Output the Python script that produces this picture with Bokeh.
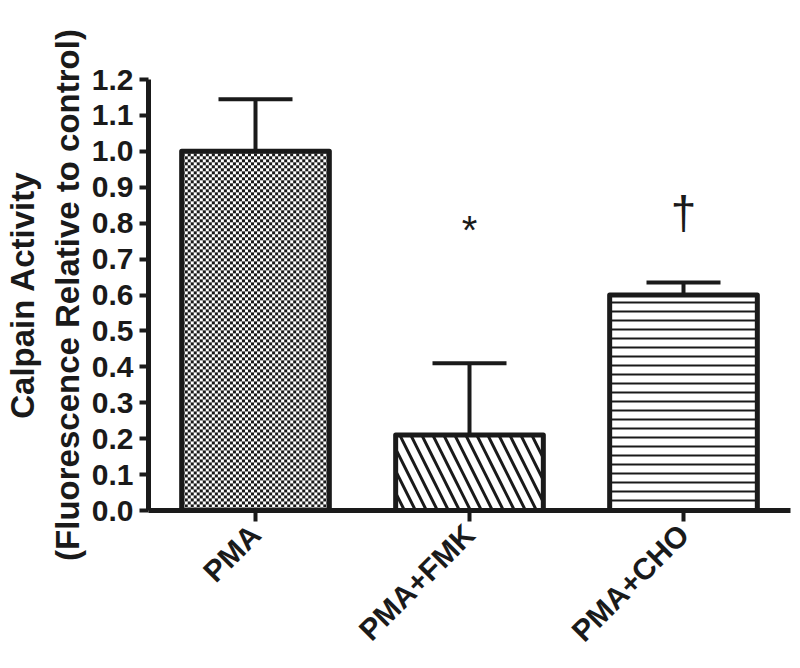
import math
import numpy as np
from bokeh.plotting import figure
from bokeh.models import (ColumnDataSource, FactorRange, Range1d, FixedTicker,
                          PrintfTickFormatter, Whisker, TeeHead)
from bokeh.transform import dodge
from bokeh.core.properties import value
from bokeh.embed import file_html
from bokeh.resources import INLINE

# ---- data ----
categories = ["PMA", "PMA+FMK", "PMA+CHO"]
means = [1.00, 0.21, 0.60]
sem = [0.145, 0.20, 0.035]
sig_labels = ["*", "†"]
sig_cats = ["PMA+FMK", "PMA+CHO"]
sig_y = [0.78, 0.828]
y_ticks = [0.0, 0.1, 0.2, 0.3, 0.4, 0.5, 0.6, 0.7, 0.8, 0.9, 1.0, 1.1, 1.2]

FONT = "Liberation Sans"
INK = "#1a1a1a"
BAR_W = 0.69
FRAME_W, FRAME_H = 642, 431
Y_MAX = 1.2

upper = [m + s for m, s in zip(means, sem)]
src = ColumnDataSource(dict(cat=categories, mean=means, upper=upper))

p = figure(x_range=FactorRange(factors=categories, range_padding=0),
           y_range=Range1d(0, Y_MAX),
           frame_width=FRAME_W, frame_height=FRAME_H,
           min_border_left=148, min_border_right=2,
           min_border_top=79, min_border_bottom=150,
           output_backend="svg", toolbar_location=None)

p.grid.visible = False
p.outline_line_color = None
p.background_fill_color = "white"

# error bars (upper only)
wh = Whisker(base="cat", lower="mean", upper="upper", source=src,
             line_width=4, line_color=INK,
             upper_head=TeeHead(size=74, line_width=4, line_color=INK),
             lower_head=None, level="underlay")
p.add_layout(wh)

# --- checkerboard texture for the first bar (an image stretched over the bar) ---
px_per_x = FRAME_W / len(categories)
px_per_y = FRAME_H / Y_MAX
cell = 3
tex_w = int(round(BAR_W * px_per_x))
tex_h = int(round(means[0] * px_per_y))
ii, jj = np.mgrid[0:tex_h, 0:tex_w]
black = np.uint32(0xFF1A1A1A)
white = np.uint32(0xFFFFFFFF)
tex = np.where(((ii // cell) + (jj // cell)) % 2 == 0, black, white).astype(np.uint32)
tex_src = ColumnDataSource(dict(cat=[categories[0]], y=[0.0], dw=[BAR_W],
                                dh=[means[0]], image=[tex]))
p.image_rgba(image="image", x=dodge("cat", -BAR_W / 2, range=p.x_range), y="y",
             dw="dw", dh="dh", source=tex_src)

# bars
patterns = ["blank", "\\", "-"]
hscales = [6, 22, 9]
hweights = [1, 3, 2]
fills = [None, "white", "white"]
for i in range(len(categories)):
    sub = ColumnDataSource(dict(cat=[categories[i]], mean=[means[i]]))
    p.vbar(x="cat", top="mean", width=BAR_W, source=sub,
           fill_color=fills[i], line_color=INK, line_width=5,
           line_join="round",
           hatch_pattern=patterns[i], hatch_scale=hscales[i],
           hatch_weight=hweights[i], hatch_color=INK)

# significance markers
sig_src = ColumnDataSource(dict(x=sig_cats, y=sig_y, t=sig_labels,
                                size=["40px", "46px"]))
p.text(x="x", y="y", text="t", source=sig_src, text_font=value(FONT),
       text_font_size="size", text_align="center", text_baseline="middle",
       text_color=INK)

# axes styling
for ax in (p.xaxis[0], p.yaxis[0]):
    ax.axis_line_width = 5
    ax.axis_line_color = INK
    ax.major_tick_line_width = 4
    ax.major_tick_line_color = INK
    ax.major_tick_in = 0
    ax.minor_tick_line_color = None
    ax.major_label_text_font = FONT
    ax.major_label_text_font_style = "bold"
    ax.major_label_text_font_size = "30px"
    ax.major_label_text_color = INK

p.yaxis.ticker = FixedTicker(ticks=y_ticks)
p.yaxis.formatter = PrintfTickFormatter(format="%.1f")
p.yaxis.major_tick_out = 9
p.yaxis.major_label_standoff = 6
p.yaxis.axis_label = "Calpain Activity\n(Fluorescence Relative to control)"
p.yaxis.axis_label_text_font = FONT
p.yaxis.axis_label_text_font_style = "bold"
p.yaxis.axis_label_text_font_size = "33px"
p.yaxis.axis_label_text_color = INK
p.yaxis.axis_label_standoff = 3

p.xaxis.major_tick_out = 11
p.xaxis.major_label_orientation = math.pi / 4
p.xaxis.major_label_standoff = 8

open("out.html", "w").write(file_html(p, INLINE))
